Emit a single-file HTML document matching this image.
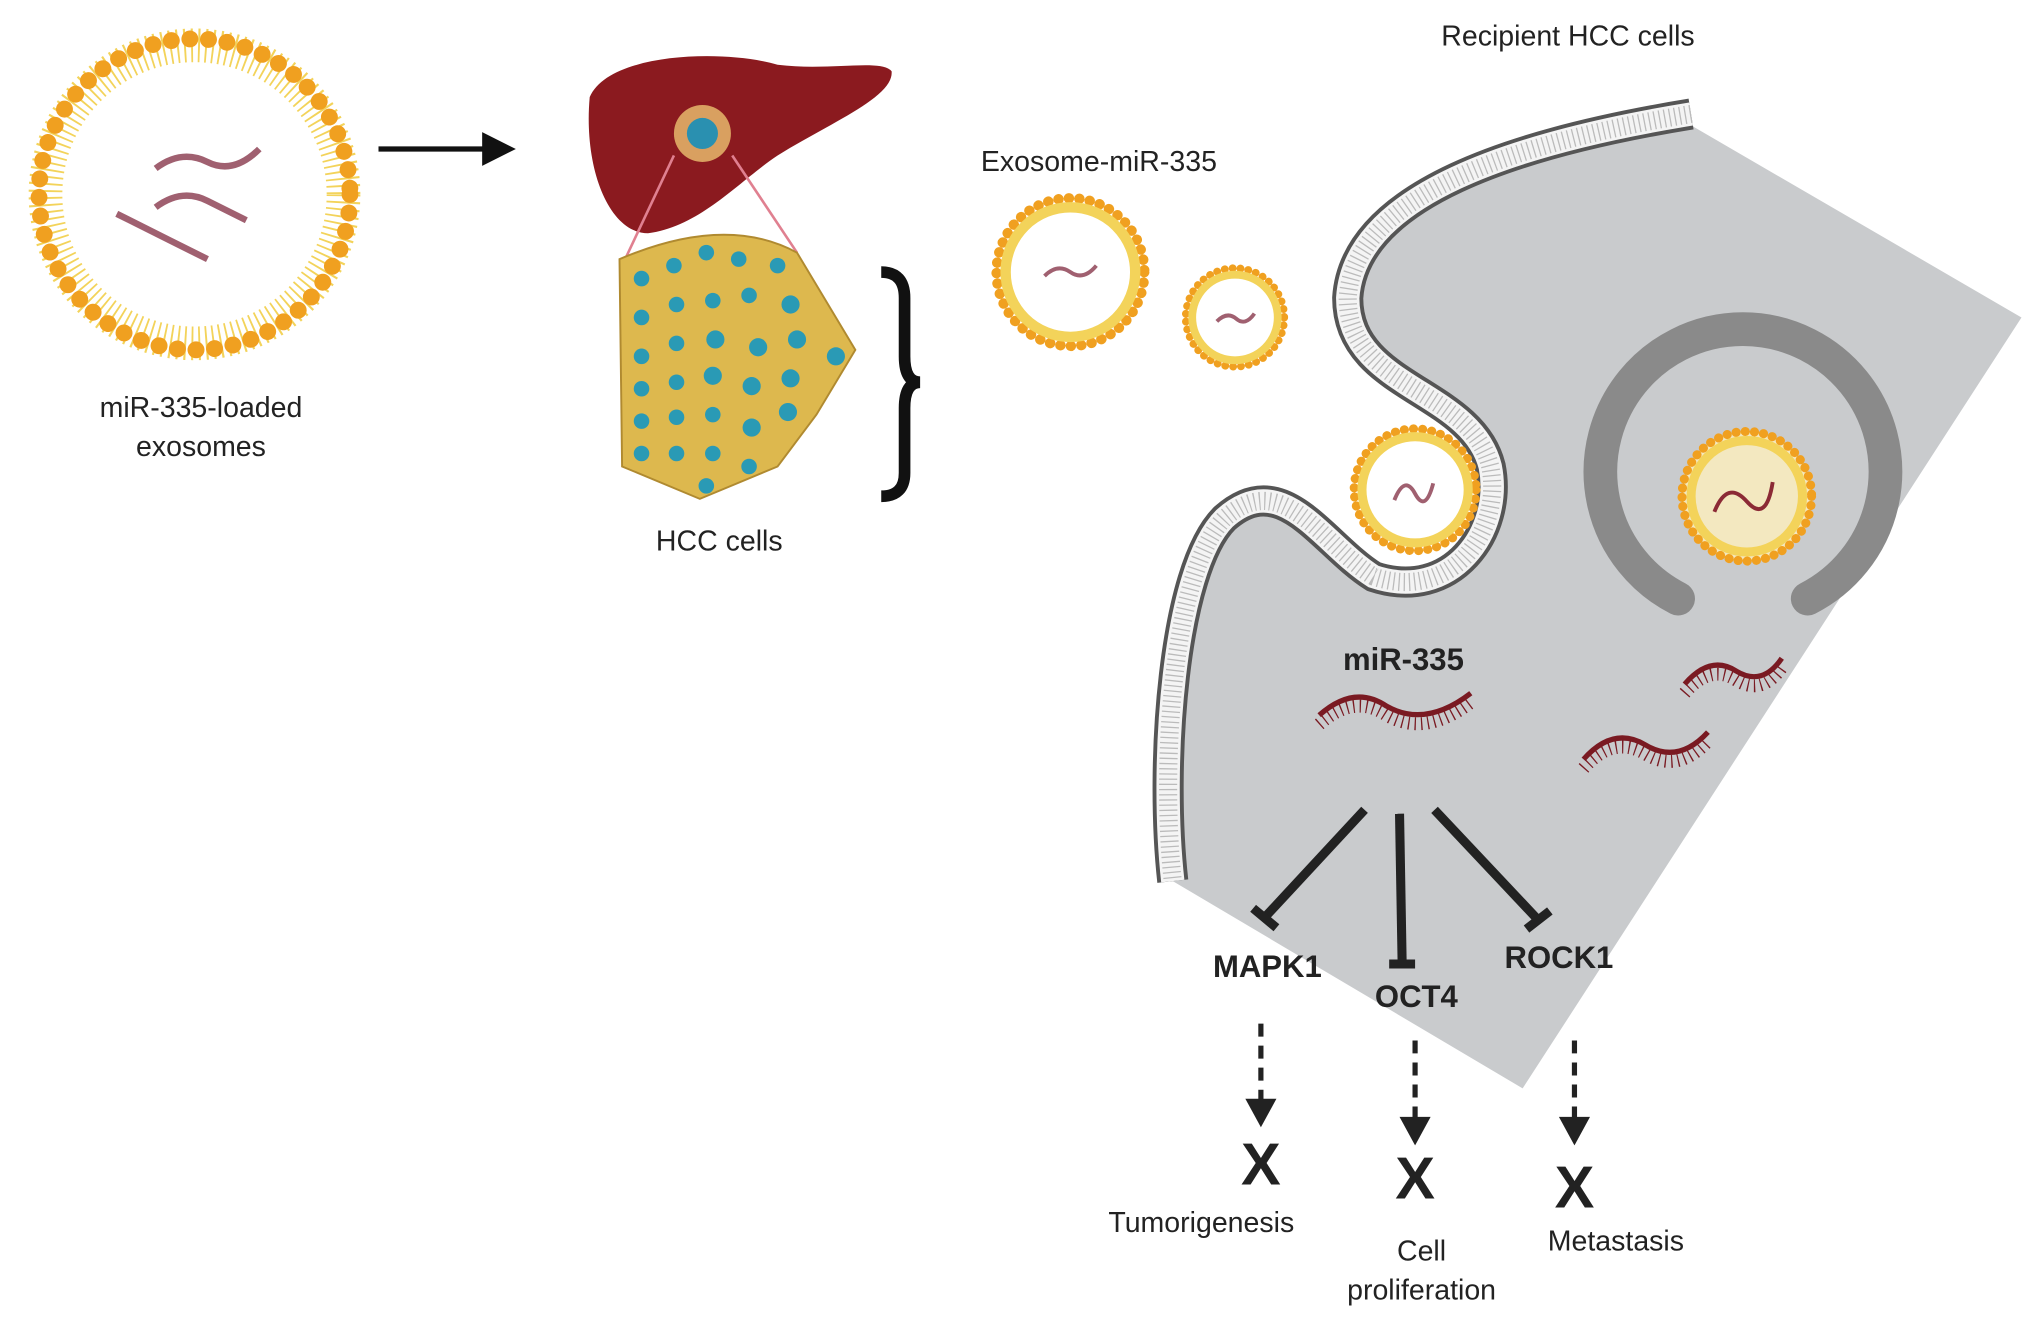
<!DOCTYPE html>
<html><head><meta charset="utf-8"><style>
html,body{margin:0;padding:0;background:#fff;}
svg{display:block;}
text{font-family:"Liberation Sans",sans-serif;fill:#222;}
</style></head><body>
<svg width="2032" height="1321" viewBox="0 0 1568 1019.5" xmlns="http://www.w3.org/2000/svg">
<!-- Big exosome -->
<g transform="translate(150,150)">
<circle r="115" fill="#fff" stroke="#f3d35a" stroke-width="26" stroke-dasharray="1.5 4"/>
<circle r="120" fill="none" stroke="#f0a020" stroke-width="13" stroke-dasharray="0.1 14.3" stroke-linecap="round"/>
<circle r="101" fill="#fff"/>
<path d="M-30,-20 q20,-15 40,-5 t40,-10" stroke="#a06070" stroke-width="5" fill="none"/>
<path d="M-30,10 q20,-15 40,-5 t30,15" stroke="#a06070" stroke-width="5" fill="none"/>
<path d="M-60,15 q20,10 40,20 t30,15" stroke="#a06070" stroke-width="5" fill="none"/>
</g>
<text x="155" y="322" font-size="22" text-anchor="middle">miR-335-loaded</text>
<text x="155" y="352" font-size="22" text-anchor="middle">exosomes</text>
<line x1="292" y1="115" x2="375" y2="115" stroke="#111" stroke-width="4"/>
<polygon points="372,102 398,115 372,128" fill="#111"/>
<!-- liver -->
<path d="M455,75 C470,40 560,38 600,50 C640,55 680,45 688,55 C690,75 640,95 600,120 C570,140 540,175 500,180 C470,180 450,130 455,75Z" fill="#8b1a1f"/>
<circle cx="542" cy="103" r="22" fill="#d9a060"/><circle cx="542" cy="103" r="12" fill="#2a90b0"/>
<line x1="520" y1="120" x2="480" y2="205" stroke="#e08090" stroke-width="2"/>
<line x1="565" y1="120" x2="615" y2="195" stroke="#e08090" stroke-width="2"/>
<path d="M478,200 Q560,165 615,195 L660,270 L630,320 L600,360 L540,385 L480,360 Z" fill="#ddb84e" stroke="#b08a30" stroke-width="1.5"/>
<g fill="#2a9ab5">
<circle cx="495" cy="215" r="6"/><circle cx="520" cy="205" r="6"/><circle cx="545" cy="195" r="6"/><circle cx="570" cy="200" r="6"/><circle cx="600" cy="205" r="6"/>
<circle cx="495" cy="245" r="6"/><circle cx="522" cy="235" r="6"/><circle cx="550" cy="232" r="6"/><circle cx="578" cy="228" r="6"/><circle cx="610" cy="235" r="7"/>
<circle cx="495" cy="275" r="6"/><circle cx="522" cy="265" r="6"/><circle cx="552" cy="262" r="7"/><circle cx="585" cy="268" r="7"/><circle cx="615" cy="262" r="7"/><circle cx="645" cy="275" r="7"/>
<circle cx="495" cy="300" r="6"/><circle cx="522" cy="295" r="6"/><circle cx="550" cy="290" r="7"/><circle cx="580" cy="298" r="7"/><circle cx="610" cy="292" r="7"/>
<circle cx="495" cy="325" r="6"/><circle cx="522" cy="322" r="6"/><circle cx="550" cy="320" r="6"/><circle cx="580" cy="330" r="7"/><circle cx="608" cy="318" r="7"/>
<circle cx="495" cy="350" r="6"/><circle cx="522" cy="350" r="6"/><circle cx="550" cy="350" r="6"/><circle cx="578" cy="360" r="6"/><circle cx="545" cy="375" r="6"/>
</g>
<path d="M680,210 Q698,210 698,230 L698,275 Q698,295 710,295 Q698,295 698,315 L698,365 Q698,383 680,383" stroke="#111" stroke-width="9" fill="none"/>
<text x="555" y="425" font-size="22" text-anchor="middle">HCC cells</text>
<text x="848" y="132" font-size="22" text-anchor="middle">Exosome-miR-335</text>
<text x="1210" y="35" font-size="22" text-anchor="middle">Recipient HCC cells</text>
<!-- gray cell -->
<path d="M1290,88 L1560,245 L1175,840 L905,680 C895,590 905,440 945,400 C990,360 1020,420 1060,445 C1120,465 1160,410 1150,360 C1135,300 1045,300 1040,235 C1040,160 1150,110 1290,88Z" fill="#c9cbcd"/>
<g fill="none">
<path id="mem" d="M1305,88 C1170,110 1045,150 1040,230 C1040,300 1135,300 1150,360 C1160,410 1120,465 1060,445 C1020,420 990,360 945,400 C905,440 895,590 905,680" stroke="#555" stroke-width="24"/>
<path d="M1305,88 C1170,110 1045,150 1040,230 C1040,300 1135,300 1150,360 C1160,410 1120,465 1060,445 C1020,420 990,360 945,400 C905,440 895,590 905,680" stroke="#f4f4f4" stroke-width="18"/>
<path d="M1305,88 C1170,110 1045,150 1040,230 C1040,300 1135,300 1150,360 C1160,410 1120,465 1060,445 C1020,420 990,360 945,400 C905,440 895,590 905,680" stroke="#bbb" stroke-width="14" stroke-dasharray="1 3"/>
</g>
<path d="M1295,462 A110,110 0 1 1 1395,462" fill="none" stroke="#8a8a8a" stroke-width="26" stroke-linecap="round"/>
<g transform="translate(826,210)"><circle r="57" fill="#fff" stroke="#f0a020" stroke-width="8" stroke-dasharray="0.1 8" stroke-linecap="round"/><circle r="50" fill="none" stroke="#f3d35a" stroke-width="8"/><circle r="45" fill="#fff"/><path d="M-20,3 q10,-10 20,-3 t20,-5" stroke="#a06070" stroke-width="3" fill="none"/></g>
<g transform="translate(953,245)"><circle r="38" fill="#fff" stroke="#f0a020" stroke-width="6" stroke-dasharray="0.1 6" stroke-linecap="round"/><circle r="33" fill="none" stroke="#f3d35a" stroke-width="6"/><circle r="29" fill="#fff"/><path d="M-14,3 q8,-8 15,-2 t14,-4" stroke="#a06070" stroke-width="3" fill="none"/></g>
<g transform="translate(1092,378)"><circle r="47" fill="#fff" stroke="#f0a020" stroke-width="7" stroke-dasharray="0.1 7" stroke-linecap="round"/><circle r="41" fill="none" stroke="#f3d35a" stroke-width="7"/><circle r="36" fill="#fff"/><path d="M-16,8 q8,-20 16,-5 t14,-8" stroke="#a06070" stroke-width="3" fill="none"/></g>
<g transform="translate(1348,383)"><circle r="50" fill="#f3e8c0" stroke="#f0a020" stroke-width="7" stroke-dasharray="0.1 7" stroke-linecap="round"/><circle r="43" fill="none" stroke="#f3d35a" stroke-width="7"/><circle r="38" fill="#f3e8c0"/><path d="M-25,12 q10,-25 25,-8 t20,-15" stroke="#8b2a35" stroke-width="3" fill="none"/></g>
<text x="1083" y="517" font-size="24" font-weight="bold" text-anchor="middle">miR-335</text>
<g fill="none" stroke="#7a1a22">
<path d="M1018,552 Q1045,528 1070,545 Q1100,562 1135,535" stroke-width="4"/>
<path d="M1018,559 Q1045,535 1070,552 Q1100,569 1135,542" stroke-width="10" stroke-dasharray="1 4"/>
<path d="M1300,528 Q1320,505 1340,518 Q1360,530 1375,508" stroke-width="4"/>
<path d="M1300,535 Q1320,512 1340,525 Q1360,537 1375,515" stroke-width="10" stroke-dasharray="1 4"/>
<path d="M1222,586 Q1245,560 1270,575 Q1295,590 1318,565" stroke-width="4"/>
<path d="M1222,593 Q1245,567 1270,582 Q1295,597 1318,572" stroke-width="10" stroke-dasharray="1 4"/>
</g>
<g stroke="#222" stroke-width="7">
<line x1="1053" y1="625" x2="976" y2="708"/><line x1="967" y1="701" x2="985" y2="716"/>
<line x1="1080" y1="628" x2="1082" y2="743"/><line x1="1072" y1="744" x2="1092" y2="744"/>
<line x1="1107" y1="625" x2="1187" y2="710"/><line x1="1178" y1="717" x2="1196" y2="703"/>
</g>
<text x="978" y="754" font-size="24" font-weight="bold" text-anchor="middle">MAPK1</text>
<text x="1093" y="777" font-size="24" font-weight="bold" text-anchor="middle">OCT4</text>
<text x="1203" y="747" font-size="24" font-weight="bold" text-anchor="middle">ROCK1</text>
<g stroke="#222" stroke-width="4" stroke-dasharray="10 7">
<line x1="973" y1="790" x2="973" y2="850"/><line x1="1092" y1="803" x2="1092" y2="865"/><line x1="1215" y1="803" x2="1215" y2="865"/>
</g>
<polygon points="961,848 985,848 973,870" fill="#222"/>
<polygon points="1080,862 1104,862 1092,884" fill="#222"/>
<polygon points="1203,862 1227,862 1215,884" fill="#222"/>
<text x="973" y="914" font-size="46" font-weight="bold" text-anchor="middle">X</text>
<text x="1092" y="925" font-size="46" font-weight="bold" text-anchor="middle">X</text>
<text x="1215" y="932" font-size="46" font-weight="bold" text-anchor="middle">X</text>
<text x="927" y="951" font-size="22" text-anchor="middle">Tumorigenesis</text>
<text x="1097" y="973" font-size="22" text-anchor="middle">Cell</text>
<text x="1097" y="1003" font-size="22" text-anchor="middle">proliferation</text>
<text x="1247" y="965" font-size="22" text-anchor="middle">Metastasis</text>
</svg>
</body></html>
